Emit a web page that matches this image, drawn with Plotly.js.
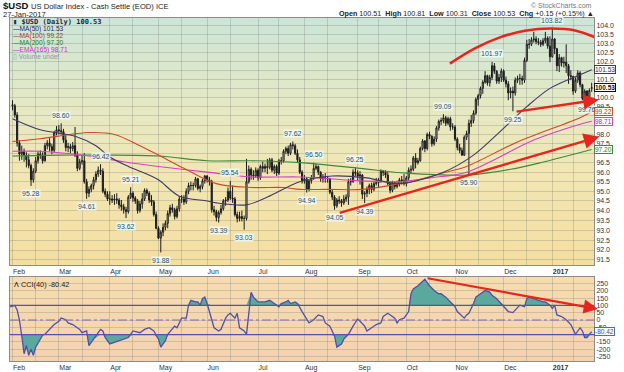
<!DOCTYPE html>
<html><head><meta charset="utf-8">
<script src="https://cdn.plot.ly/plotly-3.0.1.min.js"></script>
<style>html,body{margin:0;padding:0;background:#fff}#chart{width:624px;height:372px}</style>
</head><body><div id="chart"></div>
<script>
// ---- daily candles [open, high, low, close], one array per month (trading days) ----
const feb16 = [[99.60,99.85,99.30,99.55],[99.55,99.65,98.90,99.05],[99.05,99.20,97.35,97.55],[97.55,97.70,96.60,96.95],[96.95,97.40,96.65,97.10],
[97.10,97.25,96.55,96.90],[96.90,97.05,96.25,96.65],[96.65,96.95,96.20,96.35],[96.35,96.45,95.28,95.60],[95.60,96.20,95.45,96.05],
[96.05,96.80,95.95,96.60],[96.60,97.10,96.45,96.95],[96.95,97.15,96.70,96.90],[96.90,97.05,96.45,96.60],
[96.60,97.55,96.55,97.40],[97.40,97.70,97.20,97.55],[97.55,97.80,97.10,97.35],[97.35,97.50,96.95,97.15],[97.15,98.20,97.05,98.10],
[98.10,98.45,97.95,98.25]];
const mar16 = [[98.25,98.50,98.00,98.20],[98.20,98.60,98.00,98.15],[98.15,98.30,97.55,97.70],[97.70,97.95,97.10,97.30],
[97.30,97.55,97.05,97.35],[97.35,97.50,97.00,97.25],[97.25,97.60,97.10,97.40],[97.40,98.40,96.80,96.90],[96.90,97.10,96.05,96.20],
[96.20,96.70,96.10,96.55],[96.55,96.90,96.40,96.60],[96.60,97.00,95.40,95.50],[95.50,95.65,94.61,94.90],[94.90,95.25,94.70,95.10],
[95.10,95.40,94.95,95.30],[95.30,95.75,95.10,95.60],[95.60,96.05,95.45,95.90],[95.90,96.30,95.75,96.10],
[96.10,96.42,95.85,96.05],[96.05,96.20,94.90,95.00],[95.00,95.15,94.70,94.85],[94.85,95.00,94.50,94.60]];
const apr16 = [[94.60,95.00,94.30,94.60],
[94.60,94.80,94.40,94.55],[94.55,94.85,94.30,94.60],[94.60,94.90,94.35,94.55],[94.55,94.65,94.10,94.30],[94.30,94.55,94.00,94.20],
[94.20,94.35,93.85,94.05],[94.05,94.20,93.62,93.95],[93.95,94.80,93.85,94.70],[94.70,95.21,94.60,94.90],[94.90,95.00,94.45,94.65],
[94.65,94.75,94.35,94.50],[94.50,94.60,93.85,94.00],[94.00,94.50,93.90,94.35],[94.35,94.90,94.10,94.60],[94.60,95.15,94.50,95.05],
[95.05,95.15,94.75,94.90],[94.90,95.00,94.40,94.55],[94.55,94.80,94.25,94.45],[94.45,94.55,93.70,93.80],[93.80,93.95,93.05,93.10]];
const may16 = [[93.10,93.20,92.55,92.60],[92.60,93.00,91.88,92.90],[92.90,93.35,92.70,93.15],[93.15,93.50,93.00,93.35],[93.35,94.00,93.10,93.85],
[93.85,94.30,93.70,94.15],[94.15,94.35,93.90,94.05],[94.05,94.15,93.55,93.70],[93.70,94.25,93.60,94.10],[94.10,94.75,93.95,94.60],
[94.60,94.80,94.40,94.60],[94.60,94.80,94.30,94.45],[94.45,95.15,94.35,95.00],[95.00,95.45,94.85,95.30],[95.30,95.50,95.05,95.30],
[95.30,95.45,95.05,95.30],[95.30,95.75,95.20,95.65],[95.65,95.70,95.05,95.15],[95.15,95.35,94.95,95.25],[95.25,95.65,95.10,95.55],
[95.55,95.85,95.40,95.80]];
const jun16 = [[95.80,95.85,95.45,95.60],[95.60,95.75,95.30,95.50],[95.50,95.60,93.90,94.05],
[94.05,94.25,93.75,93.95],[93.95,94.05,93.45,93.65],[93.65,94.00,93.39,93.90],[93.90,94.30,93.80,94.10],[94.10,94.60,94.00,94.50],
[94.50,94.70,94.25,94.55],[94.55,95.20,94.45,95.00],[95.00,95.54,94.55,94.65],[94.65,95.30,94.40,94.60],[94.60,94.70,93.70,93.80],
[93.80,93.95,93.40,93.60],[93.60,93.95,93.45,93.70],[93.70,94.00,93.45,93.60],[93.60,93.75,93.03,93.60],[93.60,96.70,93.50,95.50],
[95.50,96.35,95.40,96.15],[96.15,96.25,95.60,95.85],[95.85,96.10,95.60,95.80],[95.80,96.25,95.70,96.10]];
const jul16 = [[96.10,96.20,95.55,95.70],
[95.70,96.40,95.60,96.30],[96.30,96.55,96.00,96.20],[96.20,96.45,96.00,96.30],[96.30,96.70,95.90,96.25],
[96.25,96.75,96.15,96.65],[96.65,96.75,96.00,96.10],[96.10,96.40,95.90,96.30],[96.30,96.40,95.80,95.95],[95.95,96.70,95.85,96.60],
[96.60,96.80,96.40,96.60],[96.60,97.20,96.50,97.10],[97.10,97.35,96.95,97.25],[97.25,97.40,96.85,97.00],[97.00,97.55,96.90,97.45],
[97.45,97.62,97.20,97.40],[97.40,97.50,96.90,97.00],[97.00,97.20,96.50,96.65],[96.65,96.80,95.90,96.00],[96.00,96.10,95.40,95.55]];
const aug16 = [[95.55,95.85,95.40,95.65],[95.65,95.75,94.94,95.10],[95.10,95.60,95.00,95.55],[95.55,95.85,95.40,95.70],[95.70,96.50,95.60,96.20],
[96.20,96.45,96.10,96.30],[96.30,96.35,95.85,96.00],[96.00,96.05,95.50,95.65],[95.65,95.90,95.45,95.70],[95.70,95.95,95.45,95.70],
[95.70,95.80,95.45,95.65],[95.65,95.70,94.85,94.95],[94.95,95.10,94.55,94.70],[94.70,94.80,94.05,94.25],[94.25,94.65,94.15,94.55],
[94.55,94.75,94.35,94.50],[94.50,94.60,94.20,94.40],[94.40,94.80,94.30,94.60],[94.60,94.85,94.45,94.70],[94.70,95.65,94.30,95.50],
[95.50,95.70,95.30,95.50],[95.50,96.15,95.45,96.00],[96.00,96.25,95.80,95.95]];
const sep16 = [[95.95,96.10,95.55,95.80],[95.80,96.05,95.35,95.85],
[95.85,95.90,94.60,94.85],[94.85,95.00,94.39,94.90],[94.90,95.25,94.70,95.10],[95.10,95.40,94.85,95.30],
[95.30,95.45,94.90,95.10],[95.10,95.55,95.00,95.40],[95.40,95.70,95.30,95.45],[95.45,95.70,95.20,95.55],[95.55,96.15,95.45,96.05],
[96.05,96.10,95.80,96.00],[96.00,96.10,95.70,95.85],[95.85,96.00,95.30,95.40],[95.40,95.50,94.90,95.05],[95.05,95.55,94.95,95.45],
[95.45,95.50,95.10,95.25],[95.25,95.55,95.15,95.40],[95.40,95.70,95.25,95.60],[95.60,95.80,95.35,95.55],[95.55,95.90,95.30,95.40]];
const oct16 = [[95.40,95.80,95.25,95.70],[95.70,96.25,95.55,96.10],[96.10,96.35,95.90,96.15],[96.15,96.85,96.05,96.75],[96.75,97.00,96.20,96.50],
[96.50,96.75,96.40,96.60],[96.60,97.35,96.55,97.25],[97.25,97.75,97.15,97.65],[97.65,97.70,97.05,97.25],[97.25,98.10,97.15,98.00],
[98.00,98.15,97.75,97.90],[97.90,97.95,97.35,97.50],[97.50,97.90,97.40,97.75],[97.75,98.45,97.60,98.35],[98.35,98.80,98.20,98.70],
[98.70,98.90,98.50,98.75],[98.75,99.09,98.60,98.90],[98.90,99.00,98.45,98.60],[98.60,98.95,98.50,98.85],[98.85,98.95,98.20,98.40],
[98.40,98.60,98.25,98.40]];
const nov16 = [[98.40,98.50,97.65,97.75],[97.75,97.85,97.15,97.30],[97.30,97.50,97.00,97.15],[97.15,97.30,96.85,96.90],
[96.90,97.95,96.85,97.85],[97.85,98.20,97.70,98.05],[98.05,98.80,95.90,98.60],[98.60,99.05,98.40,98.75],[98.75,99.30,98.60,99.15],
[99.15,100.00,99.05,99.90],[99.90,100.20,99.55,100.10],[100.10,100.60,99.95,100.50],[100.50,100.95,100.20,100.85],[100.85,101.45,100.75,101.20],
[101.20,101.25,100.65,100.80],[100.80,101.25,100.60,101.10],[101.10,101.97,100.95,101.75],[101.75,101.90,101.30,101.45],
[101.45,101.50,100.75,100.90],[100.90,101.30,100.75,101.10],[101.10,101.60,100.85,101.45]];
const dec16 = [[101.45,101.55,100.85,100.95],[100.95,101.15,100.55,100.75],
[100.75,100.90,99.85,100.25],[100.25,100.55,99.95,100.35],[100.35,100.60,99.25,100.25],[100.25,101.10,100.10,100.95],[100.95,101.20,100.80,101.05],
[101.05,101.30,100.70,101.05],[101.05,101.20,100.70,100.95],[100.95,102.20,100.80,102.05],[102.05,103.20,101.95,102.95],[102.95,103.25,102.70,102.95],
[102.95,103.35,102.85,103.20],[103.20,103.65,103.05,103.25],[103.25,103.40,102.95,103.10],[103.10,103.30,102.90,103.05],[103.05,103.20,102.80,102.95],
[102.95,103.30,102.85,103.15],[103.15,103.65,103.00,103.30],[103.30,103.40,102.70,102.85],[102.85,103.40,101.95,102.25]];
const jan17 = [[102.25,103.82,102.20,103.25],[103.25,103.30,102.40,102.70],[102.70,102.75,101.45,101.75],[101.75,102.40,101.40,102.20],
[102.20,102.25,101.70,101.90],[101.90,102.25,101.65,101.95],[101.95,102.95,101.35,101.75],[101.75,101.85,100.75,101.20],[101.20,101.50,100.95,101.15],
[101.15,101.20,100.15,100.35],[100.35,101.10,100.25,100.95],[100.95,101.50,100.80,101.35],[101.35,101.45,100.55,100.70],
[100.70,100.75,99.85,99.95],[99.95,100.45,99.85,100.35],[100.35,100.40,99.76,99.85],[99.85,100.50,99.80,100.38],[100.51,100.81,100.31,100.53]];

// ---- moving averages (trading-day index, value) ----
const ma50Day = [0,12,27,36,42,50,58,63,72,84,88,101,110,124,138,153,167,186,199,210,222,232,245,250];
const ma50 =    [98.85,98.25,97.9,97.4,96.8,96.3,95.9,95.6,94.75,94.5,94.4,94.3,94.7,95.5,95.8,95.7,95.4,96.0,96.9,98.1,99.5,100.5,101.25,101.53];
const ma100Day = [0,12,33,44,55,63,74,88,103,117,124,136,151,165,172,187,196,218,245,250];
const ma100 =    [97.62,97.77,98.1,98.0,97.4,96.9,96.2,95.4,95.2,95.2,95.1,95.1,95.1,95.35,95.5,96.0,96.3,97.6,98.9,99.22];
const ma200Day = [0,20,40,63,84,103,124,150,170,197,215,228,250];
const ma200 =    [96.85,96.9,96.9,96.85,96.6,96.6,96.5,96.2,95.95,95.85,96.15,96.5,97.2];
const ema165Day = [0,12,33,48,63,84,103,124,150,167,180,196,225,245,250];
const ema165 =    [97.1,97.1,96.85,96.55,96.3,96.0,95.75,95.75,95.55,95.5,95.7,96.0,97.7,98.55,98.71];

// ---- CCI(40) ----
const cciDay = [-1,1,2,3,4,5,6,7,8,9,10,12,13,14,16,18,20,21,23,24,26,27,29,30,32,33,35,38,39,40,42,44,46,48,50,52,55,57,59,61,63,64,66,67,69,70,71,73,75,76,77,79,80,81,82,83,84,86,87,89,90,92,93,94,96,97,98,100,101,103,104,106,108,109,111,113,115,116,118,119,120,122,123,125,127,128,130,132,134,135,137,139,140,142,143,145,147,149,150,152,153,155,157,159,160,162,163,165,166,167,169,171,172,173,175,177,178,180,182,184,185,187,189,191,192,194,195,196,197,199,200,202,204,206,207,209,211,213,214,216,217,219,221,222,223,225,227,229,230,232,233,234,235,237,239,241,242,243,245,246,247,248,249,250];
const cciVal = [90,100,69,0,-109,-231,-175,-242,-200,-242,-186,-131,-104,-98,-64,-31,-9,13,2,-20,-31,-42,-64,-87,-75,-175,-131,-64,-75,-120,-164,-153,-142,-131,-120,-75,-87,-64,-53,-75,-131,-186,-142,-98,-64,-42,-53,13,13,102,135,124,124,102,146,157,113,2,-53,-75,-64,13,35,46,13,46,-53,-75,-98,190,157,124,124,124,135,113,91,113,124,135,113,124,113,58,2,-20,2,35,24,-20,-42,-109,-186,-164,-131,-98,-42,7,-9,-42,-75,-53,-31,-20,24,46,35,13,-20,2,13,58,180,213,235,268,280,235,202,180,180,157,124,91,58,24,13,35,46,113,157,180,202,191,169,146,113,80,58,51,69,102,91,146,157,146,135,124,124,102,80,102,35,24,2,-31,-64,-98,-53,-75,-120,-120,-98,-80.42];

// ---- labelled swing highs / lows (trading-day index) ----
const peakDays = [21,38,51,94,121,130,148,186,207,233];
const troughDays = [8,32,49,64,89,100,127,139,152,197,216,248];

// ---- axis ticks (labels hidden under the value boxes are left blank, as in the original) ----
const monthStart = [0,20,42,63,84,106,126,149,170,191,212,233];
const monthLabel = ['Feb','Mar','Apr','May','Jun','Jul','Aug','Sep','Oct','Nov','Dec','<b>2017</b>'];
const midMonth = [10,30,52,73,94,115,136,158,180,201,222,242];
const priceTicks = [91.5,92,92.5,93,93.5,94,94.5,95,95.5,96,96.5,97,97.5,98,98.5,99,99.5,100,100.5,101,101.5,102,102.5,103,103.5,104];
const priceTickText = ['91.5','92.0','92.5','93.0','93.5','94.0','94.5','95.0','95.5','96.0','96.5','','97.5','98.0','','','99.5','100.0','','101.0','','102.0','102.5','103.0','103.5','104.0'];
const cciTicks = [-250,-200,-150,-100,-50,0,50,100,150,200,250];
const cciTickText = ['-250','-200','-150','','-50','0','50','100','150','200','250'];

// ---- hand-drawn trend marks (trading-day index, value) ----
const arcDay = [188.8,199.6,210.4,221.2,232.4,242.8,253.6];
const arcVal = [101.87,102.72,103.34,103.71,103.84,103.73,103.23];
const arrowsMain = [ {from:[216.9,99.22], to:[253.1,99.88]}, {from:[140.6,93.86], to:[253.3,97.88]} ];
const arrowCci = {from:[178.5,288], to:[252.7,75]};

// ---- last values ----
const last = {close:100.53, ma50:101.53, ma100:99.22, ma200:97.20, ema165:98.71, cci:-80.42};

const ohlc = [].concat(feb16,mar16,apr16,may16,jun16,jul16,aug16,sep16,oct16,nov16,dec16,jan17);
const day = ohlc.map((_,i)=>i);
const open = ohlc.map(r=>r[0]), high = ohlc.map(r=>r[1]), low = ohlc.map(r=>r[2]), close = ohlc.map(r=>r[3]);

const C50='#3b3b66', C100='#cc4a2a', C200='#3d8a3d', CEMA='#d93fc8', RED='#e5261f', CCIC='#5050a6', TEAL='#5aa89e';
const grid='rgba(120,120,120,0.28)';
const FAM='Liberation Sans, Arial, sans-serif';
const AX={family:FAM, size:7, color:'#333'};

const traces = [
  {type:'scatter',mode:'lines',x:ma200Day,y:ma200,line:{color:C200,width:1.1,shape:'spline',smoothing:0.9},hoverinfo:'skip'},
  {type:'scatter',mode:'lines',x:ema165Day,y:ema165,line:{color:CEMA,width:1.1,shape:'spline',smoothing:0.9},hoverinfo:'skip'},
  {type:'scatter',mode:'lines',x:ma100Day,y:ma100,line:{color:C100,width:1.1,shape:'spline',smoothing:0.9},hoverinfo:'skip'},
  {type:'scatter',mode:'lines',x:ma50Day,y:ma50,line:{color:C50,width:1.1,shape:'spline',smoothing:0.9},hoverinfo:'skip'},
  {type:'candlestick',x:day,open:open,high:high,low:low,close:close,whiskerwidth:0,
   increasing:{line:{color:'#1c1c1c',width:1},fillcolor:'#f4f4ee'},
   decreasing:{line:{color:'#1c1c1c',width:1},fillcolor:'#1c1c1c'},hoverinfo:'skip'},
  {type:'scatter',mode:'lines',x:arcDay,y:arcVal,line:{color:RED,width:2.6,shape:'spline',smoothing:1},hoverinfo:'skip'},
  // CCI panel
  {type:'scatter',mode:'lines',x:cciDay,y:cciDay.map(()=>100),xaxis:'x2',yaxis:'y2',line:{width:0},hoverinfo:'skip'},
  {type:'scatter',mode:'lines',x:cciDay,y:cciVal.map(v=>Math.max(v,100)),xaxis:'x2',yaxis:'y2',line:{width:0},fill:'tonexty',fillcolor:TEAL,hoverinfo:'skip'},
  {type:'scatter',mode:'lines',x:cciDay,y:cciDay.map(()=>-100),xaxis:'x2',yaxis:'y2',line:{width:0},hoverinfo:'skip'},
  {type:'scatter',mode:'lines',x:cciDay,y:cciVal.map(v=>Math.min(v,-100)),xaxis:'x2',yaxis:'y2',line:{width:0},fill:'tonexty',fillcolor:TEAL,hoverinfo:'skip'},
  {type:'scatter',mode:'lines',x:cciDay,y:cciVal,xaxis:'x2',yaxis:'y2',line:{color:CCIC,width:1.3},hoverinfo:'skip'}
];

// pixel -> paper helpers for text decorations (plot area 10..594 x 18..361)
const PX = x => (x-10)/584, PY = y => (361-y)/343;
const L10 = Math.log10;
const ann = [];
function txt(x,y,text,opt){ ann.push(Object.assign({xref:'paper',yref:'paper',x:PX(x),y:PY(y),text:text,showarrow:false,xanchor:'left',yanchor:'middle',font:{family:FAM,size:7.5,color:'#222'}},opt||{})); }

// header
txt(1,6,'<b>$USD</b>',{font:{family:FAM,size:9.5,color:'#111'}});
txt(29,6.5,'US Dollar Index - Cash Settle (EOD) ICE',{font:{family:FAM,size:7.6,color:'#222'}});
txt(1,14.5,'27-Jan-2017',{font:{family:FAM,size:7.6,color:'#222'}});
txt(594,5,'© StockCharts.com',{xanchor:'right',font:{family:FAM,size:7,color:'#777'}});
txt(596,13.5,'<b>Open</b> 100.51  <b>High</b> 100.81  <b>Low</b> 100.31  <b>Close</b> 100.53  <b>Chg</b> +0.15 (+0.15%) ▲',{xanchor:'right',font:{family:FAM,size:7.2,color:'#222'}});

// legend inside the price panel
txt(11,22,'<b>▮ $USD (Daily) '+last.close.toFixed(2)+'</b>',{font:{family:'DejaVu Sans Mono, monospace',size:7,color:'#1e2a44'}});
txt(11,29,'—MA(50) '+last.ma50.toFixed(2),{font:{family:FAM,size:6.6,color:'#27276a'}});
txt(11,36,'—MA(100) '+last.ma100.toFixed(2),{font:{family:FAM,size:6.6,color:'#c0302a'}});
txt(11,43,'—MA(200) '+last.ma200.toFixed(2),{font:{family:FAM,size:6.6,color:'#2e7a2e'}});
txt(11,50,'—EMA(165) '+last.ema165.toFixed(2),{font:{family:FAM,size:6.6,color:'#cc2ccc'}});
txt(11,57,'▯ Volume undef',{font:{family:FAM,size:6.6,color:'#8a9ab0'}});
txt(12,284,'ᐱ CCI(40) '+last.cci.toFixed(2),{font:{family:FAM,size:7.3,color:'#222'}});

// swing labels
const lblFont={family:FAM,size:7,color:'#1f5266'};
peakDays.forEach(d=>ann.push({xref:'x',yref:'y',x:d,y:L10(high[d]),text:high[d].toFixed(2),showarrow:false,yshift:8,yanchor:'middle',font:lblFont,bgcolor:'rgba(240,250,252,0.85)',borderpad:0}));
troughDays.forEach(d=>ann.push({xref:'x',yref:'y',x:d,y:L10(low[d]),text:low[d].toFixed(2),showarrow:false,yshift:-8,yanchor:'middle',font:lblFont,bgcolor:'rgba(240,250,252,0.85)',borderpad:0}));

// red arrows
arrowsMain.forEach(a=>ann.push({xref:'x',yref:'y',axref:'x',ayref:'y',x:a.to[0],y:L10(a.to[1]),ax:a.from[0],ay:L10(a.from[1]),text:'',showarrow:true,arrowhead:2,arrowsize:1.3,arrowwidth:2.4,arrowcolor:RED,standoff:0}));
ann.push({xref:'x2',yref:'y2',axref:'x2',ayref:'y2',x:arrowCci.to[0],y:arrowCci.to[1],ax:arrowCci.from[0],ay:arrowCci.from[1],text:'',showarrow:true,arrowhead:2,arrowsize:1.3,arrowwidth:2.2,arrowcolor:RED,standoff:0});

// right-edge value boxes
function box(v,yref,col,bold,fg){ ann.push({xref:'paper',yref:yref,x:PX(594),y:yref==='y'?L10(v):v,text:bold?'<b>'+v.toFixed(2)+'</b>':v.toFixed(2),showarrow:false,xanchor:'left',yanchor:'middle',
  font:{family:FAM,size:6.5,color:fg||col},bgcolor:'rgba(255,255,255,0.95)',bordercolor:col,borderwidth:1,borderpad:0}); }
box(last.ma50,'y',C50,false,'#27276a');
box(last.close,'y','#111',true,'#111');
box(last.ma100,'y',C100,false,'#b03020');
box(last.ema165,'y',CEMA,false,'#b020b0');
box(last.ma200,'y',C200,false,'#2e7a2e');
box(last.cci,'y2','#4a6fb0',false,'#2a4f90');

function gradSvg(stops){
  return 'data:image/svg+xml;charset=utf-8,'+encodeURIComponent('<svg xmlns="http://www.w3.org/2000/svg" width="10" height="100" viewBox="0 0 10 100" preserveAspectRatio="none"><defs><linearGradient id="g" x1="0" y1="0" x2="0" y2="1">'+stops+'</linearGradient></defs><rect width="10" height="100" fill="url(#g)"/></svg>');
}
const mainBg = gradSvg('<stop offset="0" stop-color="#cce5d8"/><stop offset="0.35" stop-color="#e4e9c4"/><stop offset="0.65" stop-color="#f2e6b2"/><stop offset="1" stop-color="#f4dea0"/>');
const cciBg = gradSvg('<stop offset="0" stop-color="#f6dcaf"/><stop offset="1" stop-color="#f4d2b0"/>');

const D1=[(361-265)/343,1], D2=[0,(361-277)/343];
const xCommon = {range:[-1.08,251],tickmode:'array',tickvals:monthStart,ticktext:monthLabel,ticklabelposition:'outside right',ticks:'',
  showgrid:true,gridcolor:grid,gridwidth:1,minor:{tickmode:'array',tickvals:midMonth,showgrid:true,gridcolor:grid,gridwidth:1},
  showline:true,mirror:true,linecolor:'#8c8c8c',linewidth:1,zeroline:false,tickfont:AX,fixedrange:true};

const layout = {
  width:624,height:372,margin:{l:10,r:30,t:18,b:11},
  paper_bgcolor:'#ffffff',plot_bgcolor:'rgba(0,0,0,0)',showlegend:false,hovermode:false,
  xaxis:Object.assign({},xCommon,{anchor:'y',rangeslider:{visible:false}}),
  xaxis2:Object.assign({},xCommon,{anchor:'y2'}),
  yaxis:{domain:D1,type:'log',range:[L10(91.25),L10(104.44)],side:'right',tickmode:'array',tickvals:priceTicks,ticktext:priceTickText,
    ticks:'',showgrid:true,gridcolor:grid,showline:true,mirror:true,linecolor:'#8c8c8c',zeroline:false,tickfont:AX,fixedrange:true},
  yaxis2:{domain:D2,range:[-281,295],side:'right',tickmode:'array',tickvals:cciTicks,ticktext:cciTickText,ticks:'',showgrid:true,gridcolor:grid,
    showline:true,mirror:true,linecolor:'#8c8c8c',zeroline:false,tickfont:AX,fixedrange:true},
  images:[
    {source:mainBg,xref:'paper',yref:'paper',x:0,y:1,sizex:1,sizey:1-D1[0],xanchor:'left',yanchor:'top',sizing:'stretch',layer:'below'},
    {source:cciBg,xref:'paper',yref:'paper',x:0,y:D2[1],sizex:1,sizey:D2[1],xanchor:'left',yanchor:'top',sizing:'stretch',layer:'below'}
  ],
  shapes:[
    {type:'line',xref:'x2 domain',yref:'y2',x0:0,x1:1,y0:100,y1:100,line:{color:'#5252b0',width:1.2}},
    {type:'line',xref:'x2 domain',yref:'y2',x0:0,x1:1,y0:-100,y1:-100,line:{color:'#5252b0',width:1.2}},
    {type:'line',xref:'x2 domain',yref:'y2',x0:0,x1:1,y0:0,y1:0,line:{color:'#7a6ab8',width:1,dash:'dashdot'}}
  ],
  annotations:ann
};
Plotly.newPlot('chart',traces,layout,{displayModeBar:false,staticPlot:true});
</script></body></html>
